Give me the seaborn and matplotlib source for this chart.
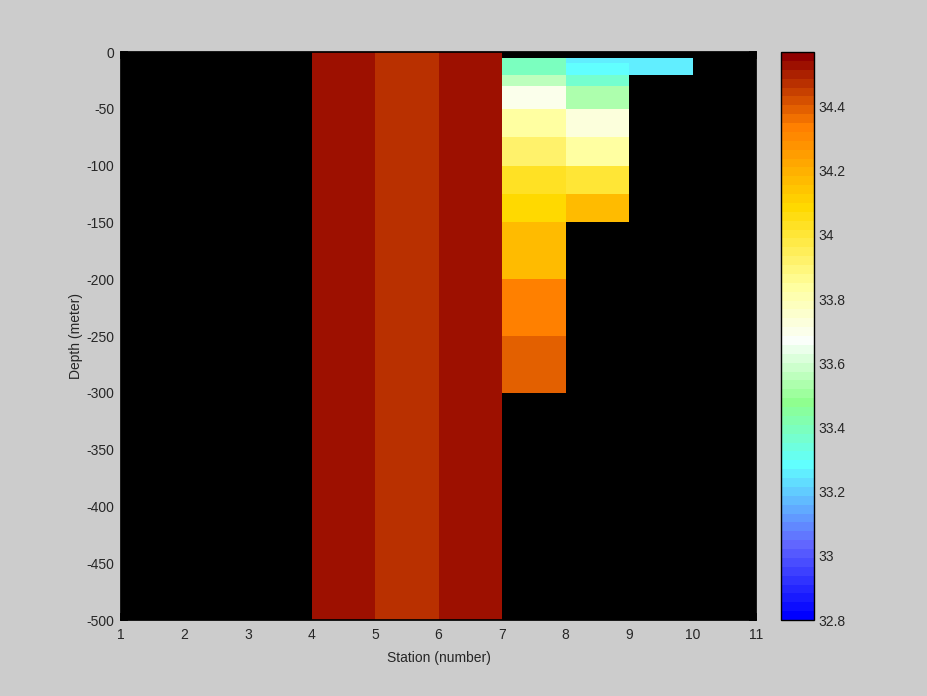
import numpy as np
import matplotlib
matplotlib.use("Agg")
import matplotlib.pyplot as plt
from matplotlib.colors import LinearSegmentedColormap
import seaborn as sns

# ---- data ----
station_edges = [1, 2, 3, 4, 5, 6, 7, 8, 9, 10, 11]
depth_edges = [0, 5, 10, 20, 30, 50, 75, 100, 125, 150, 200, 250, 300, 500]

nan = np.nan
# salinity per station cell (columns: stations 1..10), rows: depth bins above
st1 = [nan] * 13
st2 = [nan] * 13
st3 = [nan] * 13
st4 = [34.53] * 13
st5 = [34.47] * 13
st6 = [34.53] * 13
st7 = [nan, 33.39, 33.39, 33.55, 33.69, 33.84, 33.93, 34.03, 34.08, 34.17, 34.34, 34.39, nan]
st8 = [nan, 33.26, 33.28, 33.38, 33.52, 33.72, 33.84, 34.00, 34.17, nan, nan, nan, nan]
st9 = [nan, 33.26, 33.26, nan, nan, nan, nan, nan, nan, nan, nan, nan, nan]
st10 = [nan] * 13

x_ticks = [1, 2, 3, 4, 5, 6, 7, 8, 9, 10, 11]
y_ticks = [0, -50, -100, -150, -200, -250, -300, -350, -400, -450, -500]
cbar_ticks = [32.8, 33.0, 33.2, 33.4, 33.6, 33.8, 34.0, 34.2, 34.4]
clim = (32.8, 34.57)

# ---- style ----
sns.set_theme(style="ticks")
plt.rcParams['font.family'] = ['Liberation Sans', 'DejaVu Sans']
plt.rcParams['xtick.direction'] = 'in'
plt.rcParams['ytick.direction'] = 'in'

anchors = [
    (0.0, (0.0, 0.0, 1.0)),
    (8 / 63, (0.38, 0.40, 1.0)),
    (17 / 63, (0.38, 1.0, 1.0)),
    (24 / 63, (0.56, 1.0, 0.56)),
    (31 / 63, (0.98, 1.0, 0.98)),
    (37 / 63, (1.0, 1.0, 0.63)),
    (46 / 63, (1.0, 0.85, 0.0)),
    (55 / 63, (1.0, 0.50, 0.0)),
    (1.0, (0.56, 0.0, 0.0)),
]
cmap = LinearSegmentedColormap.from_list("sal", anchors, N=64)

C = np.array([st1, st2, st3, st4, st5, st6, st7, st8, st9, st10]).T
C = np.ma.masked_invalid(C)
X = np.array(station_edges, dtype=float)
Y = -np.array(depth_edges, dtype=float)

fig = plt.figure(figsize=(9.28, 6.96), dpi=100, facecolor='#cccccc')
ax = fig.add_axes([121 / 928, 76 / 696, 635 / 928, 568 / 696])
ax.set_facecolor('black')
mesh = ax.pcolormesh(X, Y, C, cmap=cmap, vmin=clim[0], vmax=clim[1], shading='flat')
ax.set_xlim(1, 11)
ax.set_ylim(-500, 0)
ax.set_xticks(x_ticks)
ax.set_yticks(y_ticks)
ax.set_xticklabels([str(t) for t in x_ticks])
ax.set_yticklabels([str(t) for t in y_ticks])
ax.tick_params(labelsize=10, length=5, color='black', top=True, right=True)
ax.tick_params(axis='x', pad=6)
ax.tick_params(axis='y', pad=5)
for s in ax.spines.values():
    s.set_color('black')
ax.set_xlabel('Station (number)', fontsize=10, labelpad=6)
ax.set_ylabel('Depth (meter)', fontsize=10, labelpad=2)

cax = fig.add_axes([781 / 928, 76 / 696, 33 / 928, 568 / 696])
cb = fig.colorbar(mesh, cax=cax, ticks=cbar_ticks)
cb.ax.set_yticklabels(['32.8', '33', '33.2', '33.4', '33.6', '33.8', '34', '34.2', '34.4'])
cb.ax.tick_params(labelsize=10, length=5, direction='in', left=True, right=True, color='black')
cb.outline.set_edgecolor('black')
cb.outline.set_linewidth(1)

fig.savefig('out.png', dpi=100, facecolor=fig.get_facecolor())
